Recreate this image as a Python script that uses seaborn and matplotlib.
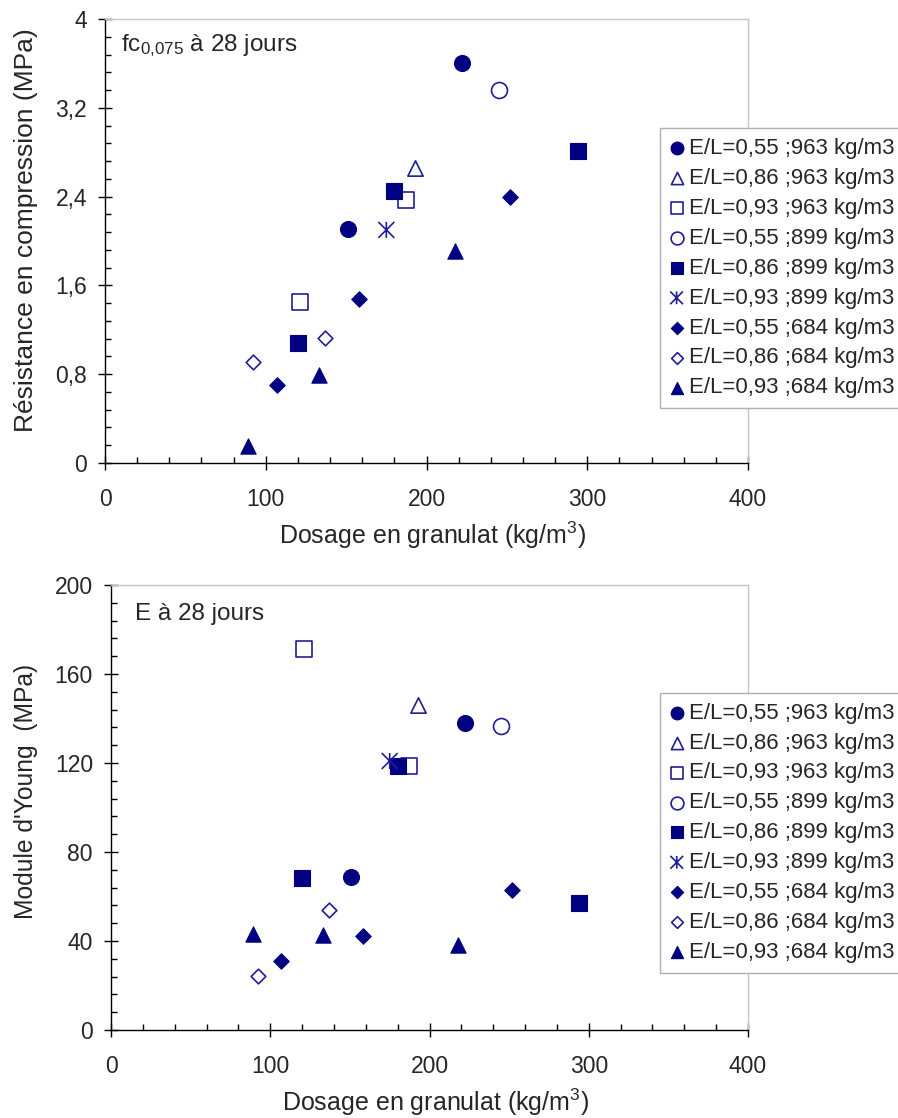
import numpy as np
import pandas as pd
import matplotlib
matplotlib.use("Agg")
import matplotlib.pyplot as plt
import seaborn as sns
from matplotlib.path import Path
from matplotlib.ticker import MultipleLocator, FuncFormatter

# ---------------- data ----------------
series_labels = [
    "E/L=0,55 ;963 kg/m3", "E/L=0,86 ;963 kg/m3", "E/L=0,93 ;963 kg/m3",
    "E/L=0,55 ;899 kg/m3", "E/L=0,86 ;899 kg/m3", "E/L=0,93 ;899 kg/m3",
    "E/L=0,55 ;684 kg/m3", "E/L=0,86 ;684 kg/m3", "E/L=0,93 ;684 kg/m3",
]

# aggregate dosage (kg/m3), shared by both panels
x_055_963 = [151, 222]
x_086_963 = [193]
x_093_963 = [121, 187]
x_055_899 = [245]
x_086_899 = [120, 180, 294]
x_093_899 = [175]
x_055_684 = [107, 158, 252]
x_086_684 = [92, 137]
x_093_684 = [89, 133, 218]

# compressive strength fc0,075 at 28 days (MPa)
fc_055_963 = [2.11, 3.60]
fc_086_963 = [2.66]
fc_093_963 = [1.45, 2.37]
fc_055_899 = [3.36]
fc_086_899 = [1.08, 2.45, 2.81]
fc_093_899 = [2.10]
fc_055_684 = [0.70, 1.48, 2.40]
fc_086_684 = [0.91, 1.13]
fc_093_684 = [0.15, 0.79, 1.91]

# Young's modulus at 28 days (MPa)
E_055_963 = [68.7, 138.1]
E_086_963 = [145.9]
E_093_963 = [171.1, 118.7]
E_055_899 = [136.5]
E_086_899 = [68.4, 118.7, 57.0]
E_093_899 = [120.9]
E_055_684 = [30.8, 42.1, 62.7]
E_086_684 = [24.2, 53.8]
E_093_684 = [43.2, 42.6, 38.1]

x_series = [x_055_963, x_086_963, x_093_963, x_055_899, x_086_899,
            x_093_899, x_055_684, x_086_684, x_093_684]
fc_series = [fc_055_963, fc_086_963, fc_093_963, fc_055_899, fc_086_899,
             fc_093_899, fc_055_684, fc_086_684, fc_093_684]
E_series = [E_055_963, E_086_963, E_093_963, E_055_899, E_086_899,
            E_093_899, E_055_684, E_086_684, E_093_684]

# ---------------- style ----------------
sns.set_theme(style="white")
plt.rcParams["font.family"] = ["Liberation Sans", "DejaVu Sans"]
plt.rcParams["mathtext.fontset"] = "custom"
plt.rcParams["mathtext.rm"] = "Liberation Sans"
plt.rcParams["mathtext.default"] = "regular"

NAVY = "#000080"
OPEN = "#1f1f99"

asterisk = Path(
    [(0, -1), (0, 1), (-1, -1), (1, 1), (-1, 1), (1, -1)],
    [Path.MOVETO, Path.LINETO, Path.MOVETO, Path.LINETO, Path.MOVETO, Path.LINETO],
)

# marker, filled, size
marker_specs = [
    ("o", True, 132), ("^", False, 121), ("s", False, 132),
    ("o", False, 132), ("s", True, 132), (asterisk, False, 132),
    ("D", True, 62), ("D", False, 56), ("^", True, 121),
]

fig = plt.figure(figsize=(8.98, 11.18), dpi=100)
ax1 = fig.add_axes([105 / 898, 1 - 463 / 1118, 643 / 898, 444 / 1118])
ax2 = fig.add_axes([111 / 898, 1 - 1030 / 1118, 637 / 898, 445 / 1118])


def comma(v, pos):
    s = ("%.1f" % v).rstrip("0").rstrip(".")
    return s.replace(".", ",")


def draw(ax, yseries, ymax, ymajor, yminor, ylabel, ylab_size, ylab_xy,
         title, yfmt, leg_anchor):
    for lab, xs, ys, (m, filled, s) in zip(series_labels, x_series, yseries, marker_specs):
        df = pd.DataFrame({"x": xs, "y": ys})
        if filled:
            sns.scatterplot(data=df, x="x", y="y", ax=ax, marker=m, s=s,
                            color=NAVY, edgecolor=NAVY, linewidth=0.8,
                            label=lab, zorder=3, clip_on=False)
        else:
            sns.scatterplot(data=df, x="x", y="y", ax=ax, marker=m, s=s,
                            color=OPEN, facecolor="white" if m is not asterisk else "none",
                            edgecolor=OPEN, linewidth=1.2,
                            label=lab, zorder=3, clip_on=False)
    ax.set_xlim(0, 400)
    ax.set_ylim(0, ymax)
    ax.xaxis.set_major_locator(MultipleLocator(100))
    ax.xaxis.set_minor_locator(MultipleLocator(20))
    ax.yaxis.set_major_locator(MultipleLocator(ymajor))
    ax.yaxis.set_minor_locator(MultipleLocator(yminor))
    if yfmt:
        ax.yaxis.set_major_formatter(FuncFormatter(comma))
    ax.tick_params(which="major", direction="inout", length=10, width=1,
                   color="black", labelsize=16.5, left=True, bottom=True)
    ax.tick_params(axis="x", which="major", pad=13)
    ax.tick_params(axis="y", which="major", pad=8)
    ax.tick_params(which="minor", direction="in", length=4, width=1,
                   color="black", left=True, bottom=True)
    for sp in ["left", "bottom"]:
        ax.spines[sp].set_color("black")
        ax.spines[sp].set_linewidth(1.0)
    for sp in ["top", "right"]:
        ax.spines[sp].set_color("#c4c4c4")
        ax.spines[sp].set_linewidth(1.0)
    ax.set_xlabel("Dosage en granulat (kg/m$^3$)", fontsize=18)
    ax.set_ylabel(ylabel, fontsize=ylab_size)
    ax.yaxis.set_label_coords(*ylab_xy)
    ax.xaxis.set_label_coords(0.51, -0.128)
    ax.text(title[1], title[2], title[0], transform=ax.transAxes,
            fontsize=17.5, ha="left", va="center")
    leg = ax.legend(loc="upper left", bbox_to_anchor=leg_anchor, fontsize=16,
                    frameon=True, fancybox=False, framealpha=1, edgecolor="#b0b0b0",
                    handlelength=0.6, handletextpad=0.25, borderpad=0.45,
                    labelspacing=0.4, borderaxespad=0, markerscale=0.8,
                    scatterpoints=1)
    leg.get_frame().set_linewidth(1.0)


draw(ax1, fc_series, 4, 0.8, 0.16, "Résistance en compression (MPa)", 19,
     (-0.104, 0.525), ("fc$_{0{,}075}$ à 28 jours", 0.025, 0.94), True,
     (0.863, 0.754))
draw(ax2, E_series, 200, 40, 8, "Module d'Young  (MPa)", 17.7,
     (-0.115, 0.536), ("E à 28 jours", 0.038, 0.935), False,
     (0.862, 0.758))

fig.savefig("out.png", dpi=100)
